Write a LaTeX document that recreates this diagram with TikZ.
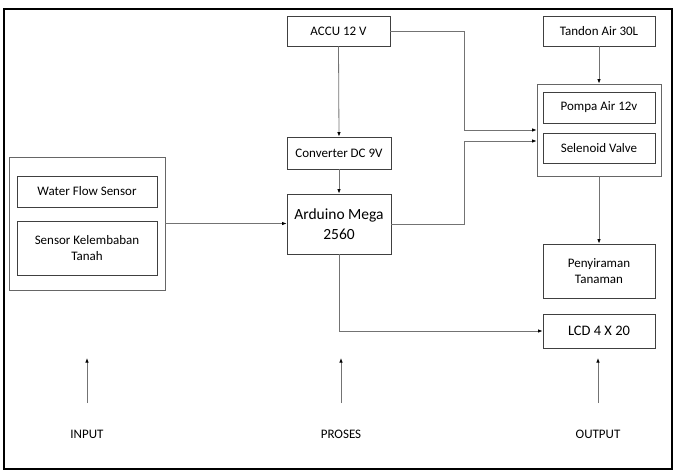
\documentclass[tikz,border=0pt]{standalone}
\usepackage{fontspec}
\setmainfont{Carlito}
\usetikzlibrary{arrows.meta}
\usetikzlibrary{positioning}
\tikzset{blok/.style = {draw=black!75, line width=0.8pt, align=center, inner sep=0pt,
                        font=\fontsize{13}{16}\selectfont},
         grup/.style = {draw=black!60, line width=0.8pt, inner sep=0pt},
         garis/.style = {draw=black!55, line width=0.8pt},
         panah/.style = {garis, -{Latex[length=4.5pt,width=3.5pt,black]}},
         ket/.style = {font=\fontsize{13}{16}\selectfont}}

\begin{document}
\begin{tikzpicture}[x=1pt, y=-1pt]
    \useasboundingbox (0,0) rectangle (675,471);
    \draw [line width=1.2pt] (4,9) rectangle (672,469);

    % input
    \node [grup, minimum width=156pt, minimum height=133pt] (sgroup) at (87,223.5) {};
    \node [blok, minimum width=140pt, minimum height=31pt] (wfs) at (87,191.5) {Water Flow Sensor};
    \node [blok, minimum width=140pt, minimum height=54pt] (skt) at (87,248) {Sensor Kelembaban\\Tanah};

    % proses
    \node [blok, minimum width=103pt, minimum height=30pt] (accu) at (338.5,31) {ACCU 12 V};
    \node [blok, minimum width=104pt, minimum height=32pt] (conv) at (339,153) {Converter DC 9V};
    \node [blok, minimum width=104pt, minimum height=60pt, font=\fontsize{15.5}{20}\selectfont] (ard) at (339,224) {Arduino Mega\\2560};

    % output
    \node [blok, minimum width=112pt, minimum height=30pt] (tandon) at (599,31) {Tandon Air 30L};
    \node [grup, minimum width=124pt, minimum height=92pt] (pgroup) at (599,130) {};
    \node [blok, minimum width=112pt, minimum height=31pt] (pompa) at (599,107.5) {Pompa Air 12v};
    \node [blok, minimum width=112pt, minimum height=30pt] (selen) at (599,148) {Selenoid Valve};
    \node [blok, minimum width=112pt, minimum height=54pt] (peny) at (599,271) {Penyiraman\\Tanaman};
    \node [blok, minimum width=112pt, minimum height=34pt, font=\fontsize{14.5}{17}\selectfont] (lcd) at (599,331) {LCD 4 X 20};

    \coordinate (bend) at (464,130);
    \draw [panah] (accu.south) -- (conv.north);
    \draw [panah] (conv.south) -- (ard.north);
    \draw [panah] (sgroup.east) -- (sgroup.east -| ard.west);
    \draw [panah] (accu.east) -| (bend) -- (pgroup.west);
    \draw [panah] (ard.east) -| ([yshift=-11pt]bend) -- ([yshift=-11pt]pgroup.west);
    \draw [panah] (tandon.south) -- (pgroup.north);
    \draw [panah] (pgroup.south) -- (peny.north);
    \draw [panah] (ard.south) |- (lcd.west);

    % keterangan
    \foreach \nama/\teks/\px in {lin/INPUT/87, lpro/PROSES/341, lout/OUTPUT/598} {
        \node [ket] (\nama) at (\px,434) {\teks};
        \coordinate (\nama-a) at (\px,403);
        \coordinate (\nama-b) at (\px,358);
        \draw [panah] (\nama-a) -- (\nama-b);
    }
\end{tikzpicture}
\end{document}
